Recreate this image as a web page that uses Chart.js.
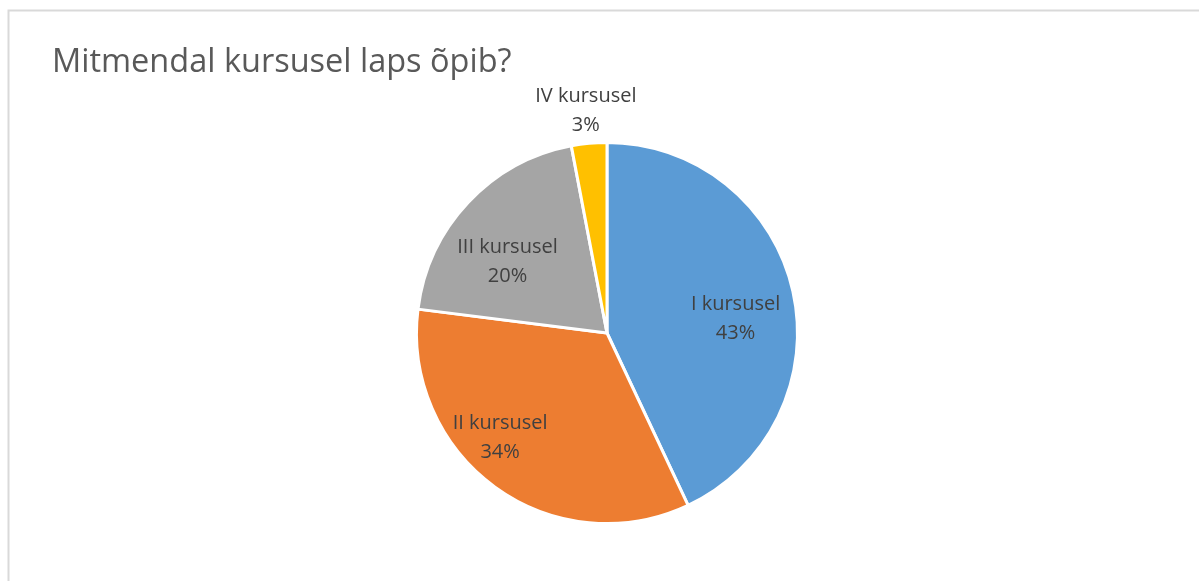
<!DOCTYPE html>
<html>
<head>
<meta charset="utf-8">
<script src="https://cdn.jsdelivr.net/npm/chart.js@4/dist/chart.umd.min.js"></script>
<style>
  body { margin: 0; background: #fff; }
  canvas { display: block; }
</style>
</head>
<body>
<canvas id="courseChart" width="1199" height="581"></canvas>
<script>
// Mitmendal kursusel laps õpib?

const titleText = 'Mitmendal kursusel laps õpib?';
const courses = ['I kursusel', 'II kursusel', 'III kursusel', 'IV kursusel'];
const shares = [43, 34, 20, 3];
const sliceColors = ['#5b9bd5', '#ed7d31', '#a5a5a5', '#ffc000'];

// light frame round the chart (top and left edges are visible)
const framePlugin = {
    id: 'frame',
    beforeDraw(chart) {
        const ctx = chart.ctx;
        ctx.save();
        ctx.strokeStyle = '#d9d9d9';
        ctx.lineWidth = 2;
        ctx.beginPath();
        ctx.moveTo(8.5, chart.height);
        ctx.lineTo(8.5, 10.5);
        ctx.lineTo(chart.width, 10.5);
        ctx.stroke();
        ctx.restore();
    }
};

// slice labels: name + percent, placed along the slice's middle angle
const sliceLabels = {
    id: 'sliceLabels',
    afterDatasetsDraw(chart, args, opts) {
        const ctx = chart.ctx;
        const ds = chart.data.datasets[0];
        const total = ds.data.reduce((a, b) => a + b, 0);
        const meta = chart.getDatasetMeta(0);
        ctx.save();
        ctx.font = opts.font;
        ctx.fillStyle = opts.color;
        ctx.textAlign = 'center';
        ctx.textBaseline = 'middle';
        meta.data.forEach((arc, i) => {
            const p = arc.getProps(['x', 'y', 'startAngle', 'endAngle', 'outerRadius'], true);
            const mid = (p.startAngle + p.endAngle) / 2 + opts.shift[i] * Math.PI / 180;
            const r = p.outerRadius * opts.dist[i];
            const cx = p.x + Math.cos(mid) * r;
            const cy = p.y + Math.sin(mid) * r + opts.nudgeY;
            const pct = Math.round(ds.data[i] / total * 100) + '%';
            ctx.fillText(chart.data.labels[i], cx, cy - opts.lineGap / 2);
            ctx.fillText(pct, cx, cy + opts.lineGap / 2);
        });
        ctx.restore();
    }
};

new Chart(
document.getElementById('courseChart'),
{
    type: 'pie',
    data: {
        labels: courses,
        datasets: [{
            data: shares,
            backgroundColor: sliceColors,
            borderColor: '#ffffff',
            borderWidth: 3
        }]
    },
    options: {
        responsive: false,
        animation: false,
        events: [],
        layout: {
            padding: { left: 52, right: 37, top: 0, bottom: 56 }
        },
        plugins: {
            legend: { display: false },
            tooltip: { enabled: false },
            title: {
                display: true,
                text: titleText,
                align: 'start',
                color: '#595959',
                font: { family: 'Open Sans', size: 32.5, weight: 'normal', lineHeight: 1.2 },
                padding: { top: 43, bottom: 59 }
            },
            sliceLabels: {
                font: '20px "Open Sans"',
                color: '#404040',
                lineGap: 29,
                nudgeY: 2,
                dist: [0.68, 0.78, 0.65, 1.18],
                shift: [5.5, 10, -6.7, 0]
            }
        }
    },
    plugins: [framePlugin, sliceLabels]
});
</script>
</body>
</html>
